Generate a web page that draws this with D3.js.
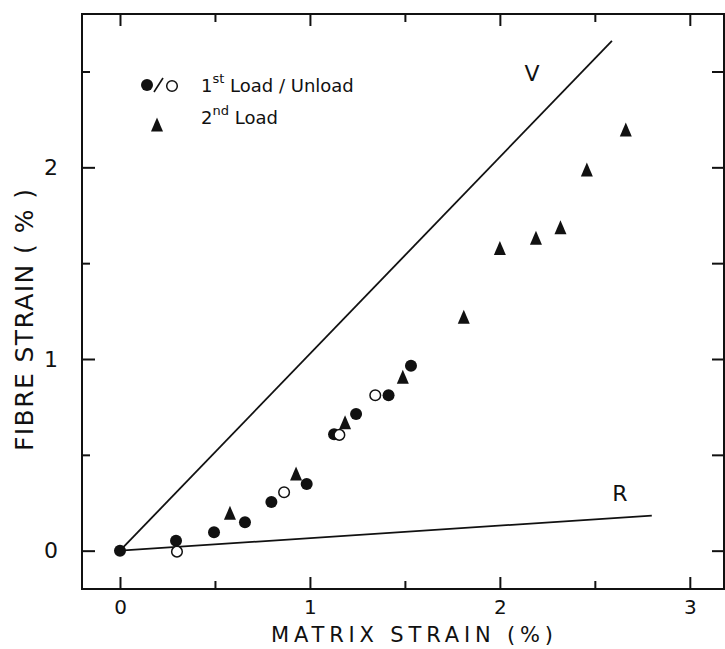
<!DOCTYPE html>
<html>
<head>
<meta charset="utf-8">
<script src="https://cdn.jsdelivr.net/npm/d3@7"></script>
<style>
  body { margin: 0; background: #fff; }
  text { font-family: "DejaVu Sans", sans-serif; fill: #111; }
</style>
</head>
<body>
<div id="chart"></div>
<script>
// 1st load (filled circles)
let load1X = [0, 0.295, 0.495, 0.658, 0.797, 0.983, 1.127, 1.243, 1.414, 1.532];
let load1Y = [0, 0.052, 0.096, 0.148, 0.254, 0.348, 0.607, 0.713, 0.811, 0.965];
// 1st unload (open circles)
let unloadX = [0.30, 0.864, 1.155, 1.344];
let unloadY = [-0.005, 0.305, 0.604, 0.811];
// 2nd load (triangles)
let load2X = [0.579, 0.927, 1.185, 1.489, 1.81, 2.0, 2.19, 2.319, 2.458, 2.663];
let load2Y = [0.195, 0.40, 0.668, 0.905, 1.218, 1.577, 1.63, 1.685, 1.986, 2.195];
// bounds V and R
let vLine = [[0, 0], [2.59, 2.66]];
let rLine = [[0, 0], [2.8, 0.183]];

let xMajor = [0, 1, 2, 3], xMinor = [0.5, 1.5, 2.5];
let yMajor = [0, 1, 2], yMinor = [0.5, 1.5, 2.5];

let width = 725, height = 649;

let svg = d3.select("#chart").append("svg")
  .attr("width", width).attr("height", height);

let x = d3.scaleLinear().domain([-0.2, 3.18]).range([82, 724]);
let y = d3.scaleLinear().domain([-0.2, 2.8]).range([589, 14]);

// frame
svg.append("rect")
  .attr("x", x(-0.2)).attr("y", y(2.8))
  .attr("width", x(3.18) - x(-0.2)).attr("height", y(-0.2) - y(2.8))
  .attr("fill", "none").attr("stroke", "#111").attr("stroke-width", 2);

function axisGroup(axis, tx, ty, fs) {
  let g = svg.append("g").attr("transform", `translate(${tx},${ty})`).call(axis);
  g.select(".domain").remove();
  g.selectAll("line").attr("stroke", "#111").attr("stroke-width", 2);
  g.selectAll("text").style("font-family", "DejaVu Sans, sans-serif").style("font-size", (fs || 22) + "px").attr("fill", "#111");
  return g;
}

// bottom
axisGroup(d3.axisBottom(x).tickValues(xMajor).tickFormat(d3.format("d")).tickSizeInner(-12).tickSizeOuter(0).tickPadding(11), 0, y(-0.2), 20);
axisGroup(d3.axisBottom(x).tickValues(xMinor).tickFormat("").tickSizeInner(-8).tickSizeOuter(0), 0, y(-0.2));
// top
axisGroup(d3.axisTop(x).tickValues(xMajor).tickFormat("").tickSizeInner(-12).tickSizeOuter(0), 0, y(2.8));
axisGroup(d3.axisTop(x).tickValues(xMinor).tickFormat("").tickSizeInner(-8).tickSizeOuter(0), 0, y(2.8));
// left
axisGroup(d3.axisLeft(y).tickValues(yMajor).tickFormat(d3.format("d")).tickSizeInner(-13).tickSizeOuter(0).tickPadding(24), x(-0.2), 0);
axisGroup(d3.axisLeft(y).tickValues(yMinor).tickFormat("").tickSizeInner(-8).tickSizeOuter(0), x(-0.2), 0);
// right
axisGroup(d3.axisRight(y).tickValues(yMajor).tickFormat("").tickSizeInner(-12).tickSizeOuter(0), x(3.18), 0);
axisGroup(d3.axisRight(y).tickValues(yMinor).tickFormat("").tickSizeInner(-12).tickSizeOuter(0), x(3.18), 0);

// axis titles
svg.append("text")
  .attr("x", 412).attr("y", 642)
  .attr("text-anchor", "middle")
  .style("font-size", "21px")
  .attr("textLength", 282)
  .text("MATRIX  STRAIN  (%)");

svg.append("text")
  .attr("transform", "translate(33,320) rotate(-90)")
  .attr("text-anchor", "middle")
  .style("font-size", "25px")
  .attr("textLength", 262)
  .text("FIBRE  STRAIN  ( % )");

// bound lines
let line = d3.line().x(d => x(d[0])).y(d => y(d[1]));
svg.append("path").datum(vLine).attr("d", line)
  .attr("fill", "none").attr("stroke", "#111").attr("stroke-width", 1.8);
svg.append("path").datum(rLine).attr("d", line)
  .attr("fill", "none").attr("stroke", "#111").attr("stroke-width", 1.8);

svg.append("text").attr("x", 532).attr("y", 81).attr("text-anchor", "middle")
  .style("font-size", "22px").text("V");
svg.append("text").attr("x", 620).attr("y", 501).attr("text-anchor", "middle")
  .style("font-size", "22px").text("R");

// markers
let tri = "M0,-7.5 L6,6.5 L-6,6.5 Z";

svg.append("g").selectAll("circle")
  .data(load1X.map((d, i) => [d, load1Y[i]]))
  .enter().append("circle")
  .attr("cx", d => x(d[0])).attr("cy", d => y(d[1]))
  .attr("r", 6).attr("fill", "#111");

svg.append("g").selectAll("circle")
  .data(unloadX.map((d, i) => [d, unloadY[i]]))
  .enter().append("circle")
  .attr("cx", d => x(d[0])).attr("cy", d => y(d[1]))
  .attr("r", 5.3).attr("fill", "#fff").attr("stroke", "#111").attr("stroke-width", 1.5);

svg.append("g").selectAll("path")
  .data(load2X.map((d, i) => [d, load2Y[i]]))
  .enter().append("path")
  .attr("d", tri)
  .attr("transform", d => `translate(${x(d[0])},${y(d[1])})`)
  .attr("fill", "#111");

// legend
let legend = svg.append("g");
legend.append("circle").attr("cx", 147).attr("cy", 85).attr("r", 6).attr("fill", "#111");
legend.append("line").attr("x1", 154).attr("y1", 92).attr("x2", 163).attr("y2", 78)
  .attr("stroke", "#111").attr("stroke-width", 1.6);
legend.append("circle").attr("cx", 172).attr("cy", 86).attr("r", 5.3).attr("fill", "#fff")
  .attr("stroke", "#111").attr("stroke-width", 1.5);
legend.append("path").attr("d", tri).attr("transform", "translate(157,125)").attr("fill", "#111");

let t1 = legend.append("text").attr("x", 201).attr("y", 92).style("font-size", "18px");
t1.append("tspan").text("1");
t1.append("tspan").attr("dy", -9).style("font-size", "13px").text("st");
t1.append("tspan").attr("dy", 9).text(" Load / Unload");

let t2 = legend.append("text").attr("x", 201).attr("y", 124).style("font-size", "18px");
t2.append("tspan").text("2");
t2.append("tspan").attr("dy", -9).style("font-size", "13px").text("nd");
t2.append("tspan").attr("dy", 9).text(" Load");
</script>
</body>
</html>
